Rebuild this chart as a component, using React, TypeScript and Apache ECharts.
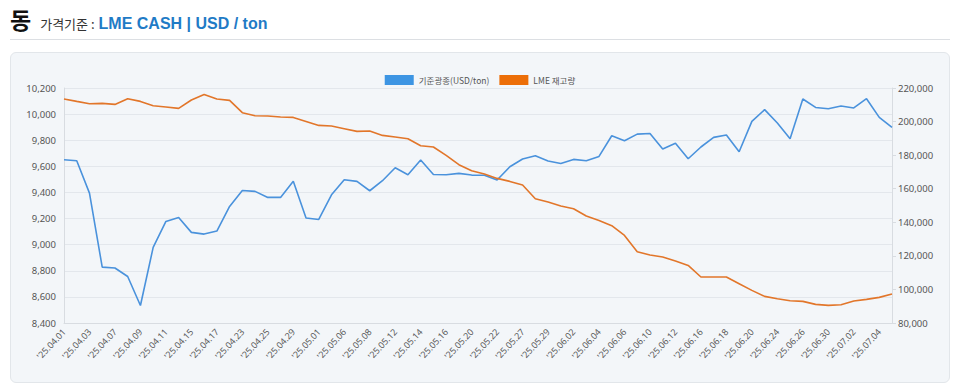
import React, { useEffect, useRef } from "react";
import * as echarts from "echarts";

const dates: string[] = [
  "'25.04.01", "'25.04.02", "'25.04.03", "'25.04.04", "'25.04.07", "'25.04.08", "'25.04.09", "'25.04.10", "'25.04.11", "'25.04.14",
  "'25.04.15", "'25.04.16", "'25.04.17", "'25.04.22", "'25.04.23", "'25.04.24", "'25.04.25", "'25.04.28", "'25.04.29", "'25.04.30",
  "'25.05.01", "'25.05.02", "'25.05.06", "'25.05.07", "'25.05.08", "'25.05.09", "'25.05.12", "'25.05.13", "'25.05.14", "'25.05.15",
  "'25.05.16", "'25.05.19", "'25.05.20", "'25.05.21", "'25.05.22", "'25.05.23", "'25.05.27", "'25.05.28", "'25.05.29", "'25.05.30",
  "'25.06.02", "'25.06.03", "'25.06.04", "'25.06.05", "'25.06.06", "'25.06.09", "'25.06.10", "'25.06.11", "'25.06.12", "'25.06.13",
  "'25.06.16", "'25.06.17", "'25.06.18", "'25.06.19", "'25.06.20", "'25.06.23", "'25.06.24", "'25.06.25", "'25.06.26", "'25.06.27",
  "'25.06.30", "'25.07.01", "'25.07.02", "'25.07.03", "'25.07.04", "'25.07.07",
];

const priceUsd: number[] = [
  9651, 9643, 9395, 8828, 8821, 8756, 8534, 8979, 9178, 9208,
  9094, 9081, 9104, 9293, 9415, 9408, 9362, 9362, 9485, 9204,
  9193, 9382, 9497, 9485, 9413, 9490, 9589, 9536, 9648, 9538,
  9536, 9546, 9533, 9532, 9495, 9597, 9656, 9681, 9641, 9622,
  9653, 9643, 9676, 9834, 9796, 9847, 9852, 9733, 9776, 9658,
  9748, 9822, 9840, 9712, 9944, 10034, 9932, 9811, 10116, 10051,
  10041, 10062, 10047, 10118, 9975, 9898,
];

const lmeStock: number[] = [
  213450, 212020, 210650, 210830, 210230, 213630, 212020, 209460, 208680, 207850,
  212850, 216190, 213450, 212610, 205290, 203500, 203320, 202730, 202490, 200100,
  197720, 197360, 195750, 194150, 194380, 191760, 190810, 189800, 185630, 184850,
  179850, 174310, 170740, 168800, 166150, 164360, 162220, 154060, 152090, 149710,
  148100, 143750, 141130, 137970, 132190, 122480, 120520, 119330, 116940, 114300,
  107410, 107410, 107410, 103420, 99430, 95860, 94490, 93300, 92880, 91100,
  90500, 90910, 93110, 94070, 95260, 97280,
];

const seriesNames: string[] = ["기준광종(USD/ton)", "LME 재고량"];

const FONT = "'Noto Sans', 'Noto Sans CJK KR', sans-serif";

function Chart() {
  const ref = useRef<HTMLDivElement>(null);
  useEffect(() => {
    if (!ref.current) return;
    const chart = echarts.init(ref.current, undefined, { renderer: "svg" });
    const fmt = (v: number) => v.toLocaleString("en-US");
    chart.setOption({
      animation: false,
      textStyle: { fontFamily: FONT },
      legend: {
        top: 18,
        left: "center",
        itemWidth: 29,
        itemHeight: 10,
        itemGap: 10,
        icon: "rect",
        textStyle: { fontSize: 8.5, color: "#555", fontFamily: "'Noto Sans CJK KR', sans-serif" },
        data: seriesNames,
      },
      grid: { left: 54, right: 58, top: 36, bottom: 60, containLabel: false },
      xAxis: {
        type: "category",
        boundaryGap: false,
        data: dates,
        axisLine: { lineStyle: { color: "#d8dce1" } },
        axisTick: { show: false },
        axisLabel: { rotate: 47, interval: 1, fontSize: 9, color: "#5a5a5a", margin: 7 },
        splitLine: { show: false },
      },
      yAxis: [
        {
          type: "value",
          min: 8400,
          max: 10200,
          interval: 200,
          axisLine: { show: true, lineStyle: { color: "#d8dce1" } },
          axisTick: { show: false },
          axisLabel: { fontSize: 9.5, color: "#555", formatter: fmt, margin: 8 },
          splitLine: { show: true, lineStyle: { color: "#e3e7ec" } },
        },
        {
          type: "value",
          min: 80000,
          max: 220000,
          interval: 20000,
          position: "right",
          axisLine: { show: true, lineStyle: { color: "#d8dce1" } },
          axisTick: { show: true, length: 4, lineStyle: { color: "#d8dce1" } },
          axisLabel: { fontSize: 9.5, color: "#555", formatter: fmt, margin: 6 },
          splitLine: { show: false },
        },
      ],
      series: [
        {
          name: seriesNames[0],
          type: "line",
          yAxisIndex: 0,
          data: priceUsd,
          showSymbol: false,
          symbol: "none",
          lineStyle: { width: 1.6, color: "#4a92dc" },
          itemStyle: { color: "#3d95e3" },
        },
        {
          name: seriesNames[1],
          type: "line",
          yAxisIndex: 1,
          data: lmeStock,
          showSymbol: false,
          symbol: "none",
          lineStyle: { width: 1.6, color: "#e2762a" },
          itemStyle: { color: "#ec6e08" },
        },
      ],
    });
    return () => chart.dispose();
  }, []);
  return <div ref={ref} style={{ width: 940, height: 331 }} />;
}

export default function App() {
  return (
    <div style={{ position: "fixed", left: 0, top: 0, width: 960, height: 387, background: "#fff", fontFamily: FONT }}>
      <div style={{ position: "absolute", left: 10, top: 2, display: "flex", alignItems: "baseline", whiteSpace: "nowrap" }}>
        <span style={{ fontSize: 23, fontWeight: 700, color: "#111", fontFamily: "'Noto Sans CJK KR', sans-serif" }}>동</span>
        <span style={{ fontSize: 13, color: "#333", marginLeft: 9, fontFamily: "'Noto Sans CJK KR', sans-serif" }}>가격기준 :</span>
        <span style={{ fontSize: 16, fontWeight: 700, color: "#1f7bc6", marginLeft: 4, fontFamily: "'Liberation Sans', Arial, sans-serif" }}>LME CASH | USD / ton</span>
      </div>
      <div style={{ position: "absolute", left: 10, top: 39, width: 940, height: 1, background: "#dcdfe3" }} />
      <div
        style={{
          position: "absolute",
          left: 10,
          top: 52,
          width: 938,
          height: 329,
          background: "#f3f6f9",
          border: "1px solid #e2e6ea",
          borderRadius: 6,
          overflow: "hidden",
        }}
      >
        <div style={{ position: "absolute", left: -1, top: -1 }}>
          <Chart />
        </div>
      </div>
    </div>
  );
}
